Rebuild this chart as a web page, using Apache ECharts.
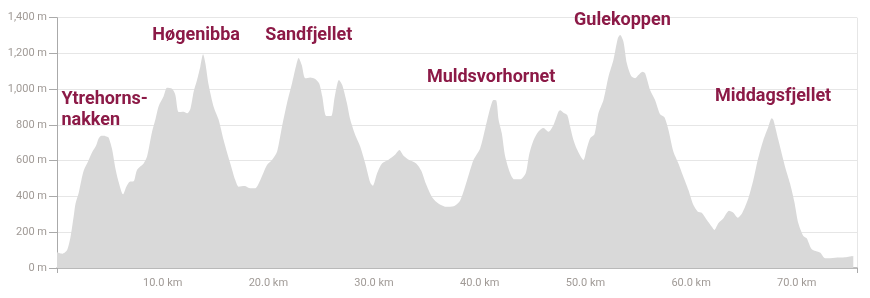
<!DOCTYPE html>
<html>
<head>
<meta charset="utf-8">
<script src="https://cdn.jsdelivr.net/npm/echarts@6/dist/echarts.min.js"></script>
<style>
html,body{margin:0;padding:0;background:#fff;}
#chart{width:870px;height:298px;}
</style>
</head>
<body>
<div id="chart"></div>
<script>
// Distance along route (km)
var distanceKm = [
  0.0, 0.48, 0.96, 1.27, 1.58, 1.75, 2.05, 2.3, 2.53, 3.0, 3.35, 3.7, 3.94, 4.2, 4.42, 4.7, 4.89, 5.21, 5.52, 5.84, 6.25,
  6.56, 6.88, 7.25, 7.58, 8.2, 8.52, 8.99, 9.31, 9.62, 10.09, 10.41, 10.89, 11.2, 11.51, 11.98, 12.3,
  12.62, 12.93, 13.25, 13.56, 13.82, 14.04, 14.35, 14.82, 15.29, 15.77, 16.4, 16.87, 17.19, 17.75, 18.29,
  18.76, 19.24, 19.87, 20.34, 20.82, 21.29, 21.76, 22.24, 22.64, 22.86, 23.16, 23.49, 23.97, 24.44, 24.82,
  25.1, 25.48, 25.95, 26.27, 26.68, 26.99, 27.42, 27.75, 28.22, 28.69, 29.17, 29.64, 29.88, 30.28, 30.75,
  31.37, 32.01, 32.4, 32.79, 33.33, 33.99, 34.46, 34.89, 35.51, 36.12, 36.9, 37.52, 38.15, 38.79, 39.41,
  40.04, 40.52, 40.99, 41.3, 41.56, 41.79, 42.09, 42.41, 42.88, 43.26, 43.83, 44.35, 44.68, 45.09, 45.56,
  46.03, 46.51, 46.98, 47.45, 47.61, 47.92, 48.28, 48.56, 48.87, 49.19, 49.81, 50.13, 50.44, 50.86, 51.23,
  51.71, 52.18, 52.65, 53.07, 53.29, 53.6, 53.92, 54.33, 54.71, 55.02, 55.4, 55.65, 56.12, 56.59, 57.07,
  57.48, 57.86, 58.33, 58.8, 59.27, 59.75, 60.22, 60.64, 61.01, 61.49, 61.96, 62.21, 62.58, 63.06, 63.59,
  64.0, 64.42, 64.85, 65.42, 65.89, 66.29, 66.53, 66.84, 67.31, 67.63, 67.79, 68.26, 68.89, 69.36, 69.77,
  70.15, 70.62, 70.94, 71.42, 72.2, 72.69, 73.63, 74.57, 75.35
];
// Elevation (m)
var elevationM = [
  88, 80, 101, 170, 290, 360, 420, 490, 545, 604, 650, 685, 725, 740, 740, 735, 728, 665, 560, 480, 412,
  455, 483, 485, 550, 585, 623, 760, 830, 905, 960, 1008, 1002, 968, 872, 874, 865,
  890, 986, 1051, 1126, 1195, 1145, 1023, 902, 830, 715, 585, 492, 455, 459, 446,
  446, 492, 576, 604, 650, 790, 921, 1033, 1135, 1175, 1135, 1061, 1066, 1057, 1030,
  960, 850, 850, 955, 1051, 1023, 925, 830, 744, 680, 585, 478, 460, 529, 585,
  606, 635, 660, 628, 604, 585, 545, 474, 395, 360, 342, 345, 378, 488, 604,
  669, 780, 893, 940, 938, 828, 753, 623, 530, 496, 496, 530, 635, 715, 764,
  783, 762, 800, 874, 882, 869, 856, 790, 716, 665, 604, 669, 725, 748, 865,
  940, 1070, 1163, 1285, 1303, 1266, 1145, 1074, 1061, 1079, 1098, 1089, 996, 940, 860,
  843, 772, 650, 585, 511, 436, 352, 315, 309, 268, 231, 213, 250, 278, 320,
  309, 281, 309, 390, 492, 600, 655, 716, 790, 837, 828, 716, 567, 474, 371,
  250, 179, 166, 105, 86, 54, 58, 60, 67
];
// Y axis tick values (m)
var elevationTicks = [0, 200, 400, 600, 800, 1000, 1200, 1400];
// X axis tick values (km)
var distanceTicks = [10, 20, 30, 40, 50, 60, 70];
// Summit annotations
var summitNames = ['Ytrehorns-\nnakken', 'Høgenibba', 'Sandfjellet', 'Muldsvorhornet', 'Gulekoppen', 'Middagsfjellet'];
var summitKm = [0.42, 9.02, 19.71, 35.0, 48.93, 62.27];
var summitElev = [881, 1303, 1303, 1063, 1387, 962];

var chart = echarts.init(document.getElementById('chart'), null, {renderer: 'canvas'});
var seriesData = distanceKm.map(function (d, i) { return [d, elevationM[i]]; });
var markData = summitNames.map(function (n, i) {
  return { name: n, coord: [summitKm[i], summitElev[i]] };
});
var labelColor = '#a09a96';
var option = {
  animation: false,
  backgroundColor: '#ffffff',
  grid: { left: 57, right: 13, top: 17.7, bottom: 30, containLabel: false },
  xAxis: {
    type: 'value',
    min: 0,
    max: 75.7,
    interval: 10,
    axisLine: { show: true, lineStyle: { color: '#aaaaaa', width: 1.5 } },
    axisTick: { show: true, length: 5, customValues: [0, 75.7], lineStyle: { color: '#aaaaaa' } },
    axisLabel: {
      color: labelColor, fontSize: 11, fontFamily: 'Roboto', margin: 10,
      customValues: distanceTicks,
      formatter: function (v) { return v.toFixed(1) + ' km'; }
    },
    splitLine: { show: true, lineStyle: { color: '#e6e6e6' } }
  },
  yAxis: {
    type: 'value',
    min: 0,
    max: 1400,
    interval: 200,
    axisLine: { show: true, lineStyle: { color: '#aaaaaa' } },
    axisTick: { show: true, length: 8, lineStyle: { color: '#aaaaaa' } },
    axisLabel: {
      color: labelColor, fontSize: 11, fontFamily: 'Roboto', margin: 10,
      customValues: elevationTicks,
      formatter: function (v) { return v.toLocaleString('en-US') + ' m'; }
    },
    splitLine: { show: true, lineStyle: { color: '#e6e6e6' } }
  },
  series: [{
    type: 'line',
    data: seriesData,
    smooth: 0.25,
    showSymbol: false,
    lineStyle: { width: 0 },
    itemStyle: { color: '#d9d9d9' },
    areaStyle: { color: '#d9d9d9', opacity: 1 },
    z: 2,
    markPoint: {
      symbol: 'circle',
      symbolSize: 1,
      itemStyle: { color: 'rgba(0,0,0,0)' },
      label: {
        show: true,
        position: 'inside',
        align: 'left',
        verticalAlign: 'middle',
        formatter: '{b}',
        color: '#8c1a47',
        fontFamily: 'Roboto',
        fontWeight: 'bold',
        fontSize: 18,
        lineHeight: 21
      },
      data: markData
    }
  }]
};
chart.setOption(option);
</script>
</body>
</html>
